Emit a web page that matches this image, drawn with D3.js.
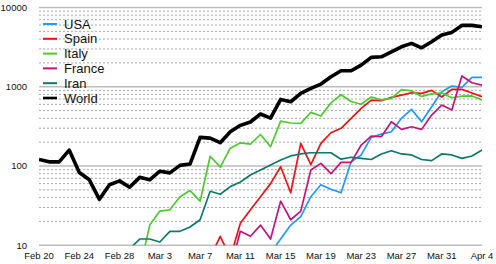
<!DOCTYPE html>
<html>
<head>
<meta charset="utf-8">
<script src="https://cdn.jsdelivr.net/npm/d3@7"></script>
<style>
body { margin: 0; background: #fff; }
text { font-family: "Liberation Sans", Arial, Helvetica, sans-serif; }
</style>
</head>
<body>
<div id="chart"></div>
<script>
// daily deaths, Feb 20 .. Apr 4 2020 (null = none / no data)
var firstDay = "2020-02-20", lastDay = "2020-04-04";
var tickLabels = ["Feb 20", "Feb 24", "Feb 28", "Mar 3", "Mar 7", "Mar 11",
    "Mar 15", "Mar 19", "Mar 23", "Mar 27", "Mar 31", "Apr 4"];
var yTicks = [10, 100, 1000, 10000];

var usa = [null, null, null, null, null, null, null, null, null, 1,
    null, 5, 1, 4, 1, 2, 3, 4, 4, 4, 7, 8, 7,
    8, 12, 18, 23, 41, 58, 51, 46, 113, 138, 230, 253, 271, 400, 519, 362, 560, 865,
    1021, 983, 1313, 1313];
var spain = [null, null, null, null, null, null, null, null, null, null,
    null, null, 1, null, 1, 2, 3, 7, 13, 7,
    19, 28, 41, 60, 98, 46, 193, 104, 193, 263,
    299, 400, 534, 680, 666, 735, 786, 840, 826, 901, 742,
    927, 927, 833, 748];
var italy = [null, 1, 1, 1, 4, 4, 1, 2, 5, 8,
    5, 18, 27, 28, 41, 49, 36, 133, 97, 168,
    196, 189, 250, 175, 369, 349, 345, 475, 427, 627,
    793, 651, 601, 743, 683, 712, 919, 889, 756, 812, 837,
    727, 760, 766, 681];
var france = [null, null, null, null, null, null, 1, null, null, 1,
    null, 1, 1, 1, 2, 3, 2, 8, 6, 5,
    15, 13, 18, 12, 36, 21, 27, 89, 108, 80,
    111, 111, 184, 239, 234, 362, 290, 313, 290, 440, 588,
    509, 1364, 1123, 1050];
var iran = [null, 2, 1, 3, 4, 4, 3, 7, 8, 9,
    12, 12, 11, 15, 15, 17, 21, 48, 44, 55,
    63, 77, 89, 103, 119, 134, 142, 147, 147, 147,
    122, 129, 125, 121, 142, 156, 142, 138, 121, 117, 142,
    138, 125, 134, 159];
var world = [121, 113, 113, 159, 83, 67, 38, 58, 65, 54,
    72, 67, 86, 82, 102, 106, 230, 225, 197, 271,
    326, 359, 453, 403, 693, 647, 826, 955, 1082, 1337,
    1592, 1592, 1878, 2349, 2390, 2763, 3193, 3526, 3103, 3693, 4488,
    4853, 5945, 5945, 5712];

var seriesNames = ["USA", "Spain", "Italy", "France", "Iran", "World"];
var seriesValues = [usa, spain, italy, france, iran, world];
var colors = ["#1e9bff", "#f01212", "#4ccc2a", "#c2157c", "#0b7a6c", "#000000"];
var widths = [1.7, 1.7, 1.7, 1.7, 1.7, 3.6];

var W = 496, H = 264;
var margin = {top: 7.5, right: 14, bottom: 18.7, left: 39};
var width = W - margin.left - margin.right,
    height = H - margin.top - margin.bottom;

var parseDay = d3.timeParse("%Y-%m-%d");
var parseTick = d3.timeParse("%b %d %Y");
var days = d3.timeDay.range(parseDay(firstDay), d3.timeDay.offset(parseDay(lastDay), 1));

var x = d3.scaleTime().domain([days[0], days[days.length - 1]]).range([0, width]);
var y = d3.scaleLog().domain([10, 10000]).range([height, 0]);

var svg = d3.select("#chart")
    .append("svg")
    .attr("width", W)
    .attr("height", H)
    .append("g")
    .attr("transform", "translate(" + margin.left + "," + margin.top + ")");

// minor grid (2..9 per decade), dotted
var minor = [];
[10, 100, 1000].forEach(function(d) {
    for (var k = 2; k <= 9; k++) minor.push(d * k);
});
svg.selectAll(".minor")
    .data(minor)
    .enter().append("line")
    .attr("x1", 0).attr("x2", width)
    .attr("y1", function(d) { return y(d); })
    .attr("y2", function(d) { return y(d); })
    .attr("stroke", "#a8a8a8")
    .attr("stroke-width", 1)
    .attr("stroke-dasharray", "2,2");

// major grid
svg.selectAll(".major")
    .data(yTicks)
    .enter().append("line")
    .attr("x1", 0).attr("x2", width)
    .attr("y1", function(d) { return y(d); })
    .attr("y2", function(d) { return y(d); })
    .attr("stroke", "#bdbdbd")
    .attr("stroke-width", 1.5);

// y labels
svg.selectAll(".ylab")
    .data(yTicks)
    .enter().append("text")
    .attr("x", -12)
    .attr("y", function(d) { return y(d); })
    .attr("dy", "0.35em")
    .attr("text-anchor", "end")
    .style("font-size", "9.5px")
    .style("fill", "#111")
    .text(function(d) { return d; });

// x labels
svg.selectAll(".xlab")
    .data(tickLabels)
    .enter().append("text")
    .attr("x", function(d) { return x(parseTick(d + " 2020")); })
    .attr("y", height + 13.5)
    .attr("text-anchor", "middle")
    .style("font-size", "9.5px")
    .style("fill", "#111")
    .text(function(d) { return d; });

svg.append("clipPath")
    .attr("id", "plotclip")
    .append("rect")
    .attr("x", 0).attr("y", -2)
    .attr("width", width).attr("height", height + 2);

var line = d3.line()
    .defined(function(d) { return d != null; })
    .x(function(d, i) { return x(days[i]); })
    .y(function(d) { return y(d); });

var plot = svg.append("g").attr("clip-path", "url(#plotclip)");
seriesValues.forEach(function(vals, s) {
    plot.append("path")
        .datum(vals)
        .attr("fill", "none")
        .attr("stroke", colors[s])
        .attr("stroke-width", widths[s])
        .attr("stroke-linejoin", "round")
        .attr("d", line);
});

// legend
var legend = svg.append("g").attr("transform", "translate(4,16.5)");
seriesNames.forEach(function(name, s) {
    var g = legend.append("g").attr("transform", "translate(0," + (s * 14.8) + ")");
    g.append("line")
        .attr("x1", 0).attr("x2", 14)
        .attr("stroke", colors[s])
        .attr("stroke-width", s == 5 ? 2.6 : 2);
    g.append("text")
        .attr("x", 21)
        .attr("dy", "0.35em")
        .style("font-size", "13px")
        .style("fill", "#111")
        .text(name);
});
</script>
</body>
</html>
